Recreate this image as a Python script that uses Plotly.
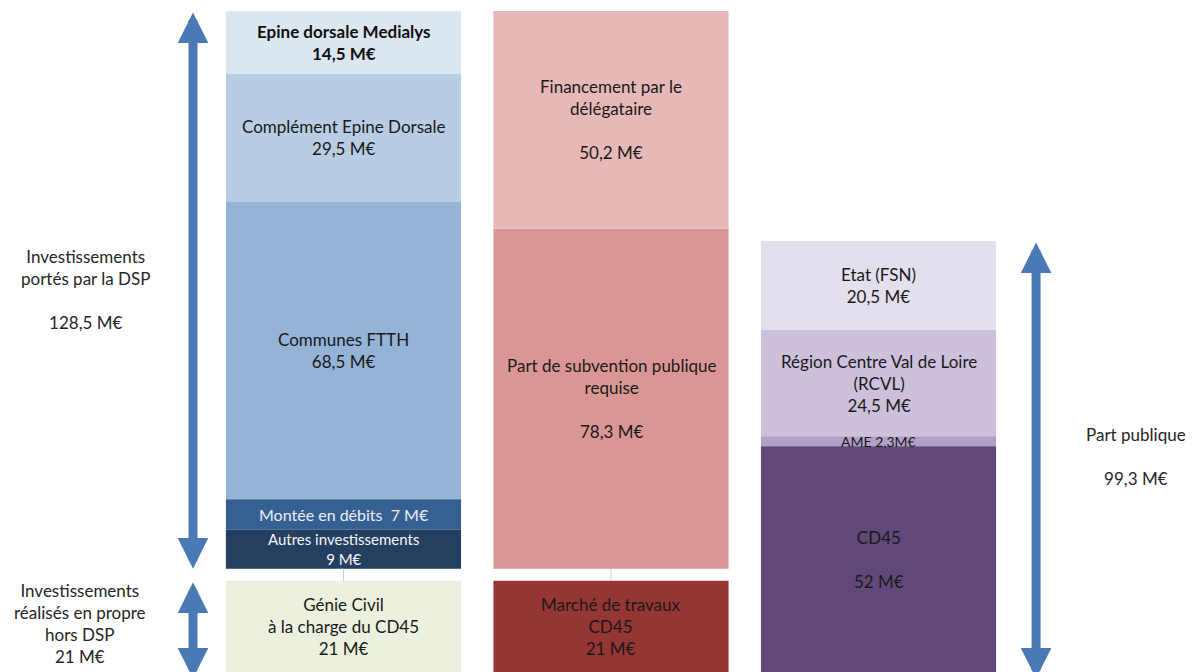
import plotly.graph_objects as go

# ---------------- data (M€) ----------------
dsp_labels = ["Epine dorsale Medialys", "Complément Epine Dorsale", "Communes FTTH",
              "Montée en débits", "Autres investissements"]
dsp_values = [14.5, 29.5, 68.5, 7, 9]

fin_labels = ["Financement par le<br>délégataire", "Part de subvention publique<br>requise"]
fin_values = [50.2, 78.3]

pub_labels = ["Etat (FSN)", "Région Centre Val de Loire<br>(RCVL)", "AME", "CD45"]
pub_values = [20.5, 24.5, 2.3, 52]

hors_labels = ["Génie Civil<br>à la charge du CD45", "Marché de travaux<br>CD45"]
hors_values = [21, 21]

side_labels = ["Investissements<br>portés par la DSP", "Investissements<br>réalisés en propre<br>hors DSP",
               "Part publique"]
side_values = [128.5, 21, 99.3]

# ---------------- styles ----------------
dsp_colors = ["#dce6f1", "#b8cce4", "#95b3d7", "#366092", "#243f60"]
dsp_text = ["#111111", "#1a1a1a", "#1a1a1a", "#e8eef7", "#f4f6fa"]
fin_colors = ["#e6b8b7", "#da9694"]
pub_colors = ["#e4dfec", "#ccc0da", "#b1a0c7", "#60497a"]
hors_colors = ["#ebf1de", "#963634"]
ARROW = "#4a7ab5"
FONT = "Lato"
FS = 17
GAP = 2.8            # vertical gap between the two blocks (M€ units)
BW = 0.879           # bar width


def fmt(v):
    s = ("%.1f" % v).rstrip("0").rstrip(".")
    return s.replace(".", ",")


fig = go.Figure()
ann = []


def add_stack(xc, labels, values, colors, tcolors, base0, templates, sizes=None):
    """Stack segments top-to-bottom ending at base0."""
    b = base0 + sum(values)
    sizes = sizes or [FS] * len(values)
    for lab, v, c, tc, tpl, fs in zip(labels, values, colors, tcolors, templates, sizes):
        base = b - v
        fig.add_trace(go.Bar(x=[xc], y=[v], base=[base], width=BW,
                             marker=dict(color=c, line=dict(width=0)),
                             hoverinfo="skip", showlegend=False))
        ann.append(dict(x=xc, y=base + v / 2, xref="x", yref="y", showarrow=False,
                        text=tpl.format(lab=lab, n=fmt(v)),
                        font=dict(family=FONT, size=fs, color=tc), align="center"))
        b = base


top_base = hors_values[0] + GAP

add_stack(0, dsp_labels, dsp_values, dsp_colors, dsp_text, top_base,
          ["<b>{lab}<br>{n} M€</b>", "{lab}<br>{n} M€", "{lab}<br>{n} M€",
           "{lab}  {n} M€", "{lab}<br>{n} M€"],
          [FS, FS, FS, 16, 15])
add_stack(1, fin_labels, fin_values, fin_colors, ["#1a1a1a"] * 2, top_base,
          ["{lab}<br><br>{n} M€", "{lab}<br><br>{n} M€"])
add_stack(2, pub_labels, pub_values, pub_colors, ["#1a1a1a"] * 4, 0,
          ["{lab}<br>{n} M€", "{lab}<br>{n} M€", "{lab} {n}M€", "{lab}<br><br>{n} M€"],
          [FS, FS, 14, FS])
add_stack(0, hors_labels[:1], hors_values[:1], hors_colors[:1], ["#1a1a1a"], 0,
          ["{lab}<br>{n} M€"])
add_stack(1, hors_labels[1:], hors_values[1:], hors_colors[1:], ["#1a1a1a"], 0,
          ["{lab}<br>{n} M€"])

# thin connectors between the blocks
for xc in (0, 1):
    fig.add_trace(go.Scatter(x=[xc, xc], y=[hors_values[0], top_base], mode="lines",
                             line=dict(color="#cfcfcf", width=1),
                             hoverinfo="skip", showlegend=False))

# double arrows
X_LEFT, X_RIGHT = -0.5626, 2.589
arrow_spans = [
    (X_LEFT, top_base + sum(dsp_values), top_base),
    (X_LEFT, hors_values[0], -1.5),
    (X_RIGHT, sum(pub_values), -1.5),
]
for xa, y1, y2 in arrow_spans:
    ann.append(dict(x=xa, y=y2, ax=xa, ay=y1, xref="x", yref="y", axref="x", ayref="y",
                    showarrow=True, arrowhead=2, startarrowhead=2, arrowside="end+start",
                    arrowwidth=9, arrowsize=0.68, startarrowsize=0.68,
                    arrowcolor=ARROW, text=""))

# side labels
side_pos = [(-0.964, top_base + sum(dsp_values) / 2),
            (-0.985, hors_values[0] / 2 + 0.6),
            (2.963, sum(pub_values) / 2)]
side_tpl = ["{lab}<br><br>{n} M€", "{lab}<br>{n} M€", "{lab}<br><br>{n} M€"]
for (xs, ys), lab, v, tpl in zip(side_pos, side_labels, side_values, side_tpl):
    ann.append(dict(x=xs, y=ys, xref="x", yref="y", showarrow=False,
                    text=tpl.format(lab=lab, n=fmt(v)),
                    font=dict(family=FONT, size=FS, color="#262626"), align="center"))

# page body adds an 8px offset; ranges compensate so marks land like the reference
total_h = top_base + sum(dsp_values)
fig.update_layout(
    width=1194, height=672, margin=dict(l=0, r=0, t=0, b=0),
    paper_bgcolor="white", plot_bgcolor="white", barmode="overlay",
    xaxis=dict(range=[-1.2542, 3.2093], visible=False, fixedrange=True),
    yaxis=dict(range=[-1.843, total_h + 0.69], visible=False, fixedrange=True),
    annotations=ann, showlegend=False,
)

fig.write_html("out.html")
